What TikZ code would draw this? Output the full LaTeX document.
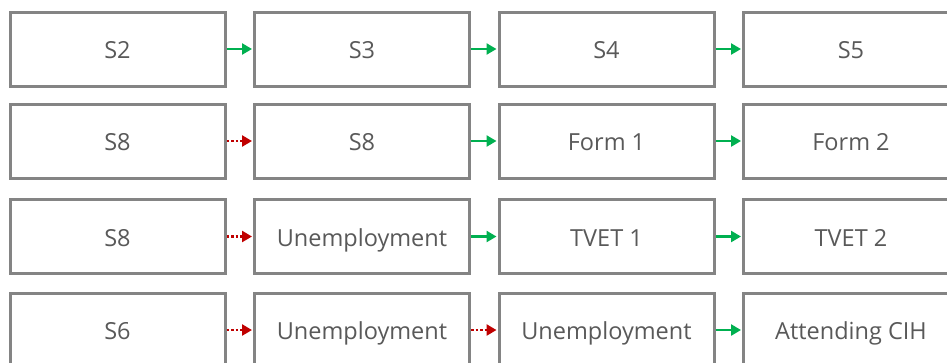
\documentclass[tikz,border=0pt]{standalone}
\usepackage{fontspec}
\setmainfont{Open Sans}
\usetikzlibrary{arrows.meta}
\definecolor{boxline}{HTML}{848484}
\definecolor{boxtext}{HTML}{595959}
\definecolor{goon}{HTML}{00B050}
\definecolor{stall}{HTML}{C00000}
\tikzset{
  stage/.style={draw=boxline, line width=3pt, fill=white, rectangle,
    minimum width=215pt, minimum height=74pt, inner sep=0pt,
    text height=24pt, text depth=5pt,
    text=boxtext, font=\fontsize{23.5}{28}\selectfont},
  next/.style={draw=goon, line width=2.5pt,
    -{Triangle[length=10pt,width=11pt]}, shorten >=1pt},
  stuck/.style={draw=stall, line width=2.5pt, dash pattern=on 2.5pt off 2pt,
    -{Triangle[length=10pt,width=11pt]}, shorten >=1pt},
}
\begin{document}
\begin{tikzpicture}[x=1pt,y=-1pt]
\useasboundingbox (0,0) rectangle (947,362);
\clip (0,0) rectangle (947,362);
\fill[white] (0,0) rectangle (947,362);

% columns at x = 117.5, 362, 606.5, 851; rows at y = 49, 141, 236.5, 330
\node[stage] (a1) at (117.5,49) {S2};
\node[stage] (a2) at (362,49) {S3};
\node[stage] (a3) at (606.5,49) {S4};
\node[stage] (a4) at (851,49) {S5};

\node[stage] (b1) at (117.5,141) {S8};
\node[stage] (b2) at (362,141) {S8};
\node[stage] (b3) at (606.5,141) {Form 1};
\node[stage] (b4) at (851,141) {Form 2};

\node[stage] (c1) at (117.5,236.5) {S8};
\node[stage] (c2) at (362,236.5) {Unemployment};
\node[stage] (c3) at (606.5,236.5) {TVET 1};
\node[stage] (c4) at (851,236.5) {TVET 2};

\node[stage] (d1) at (117.5,330) {S6};
\node[stage] (d2) at (362,330) {Unemployment};
\node[stage] (d3) at (606.5,330) {Unemployment};
\node[stage] (d4) at (851,330) {Attending CIH};

\draw[next] (a1.east) -- (a2.west);
\draw[next] (a2.east) -- (a3.west);
\draw[next] (a3.east) -- (a4.west);

\draw[stuck] (b1.east) -- (b2.west);
\draw[next] (b2.east) -- (b3.west);
\draw[next] (b3.east) -- (b4.west);

\draw[stuck] (c1.east) -- (c2.west);
\draw[next] (c2.east) -- (c3.west);
\draw[next] (c3.east) -- (c4.west);

\draw[stuck] (d1.east) -- (d2.west);
\draw[stuck] (d2.east) -- (d3.west);
\draw[next] (d3.east) -- (d4.west);
\end{tikzpicture}
\end{document}
